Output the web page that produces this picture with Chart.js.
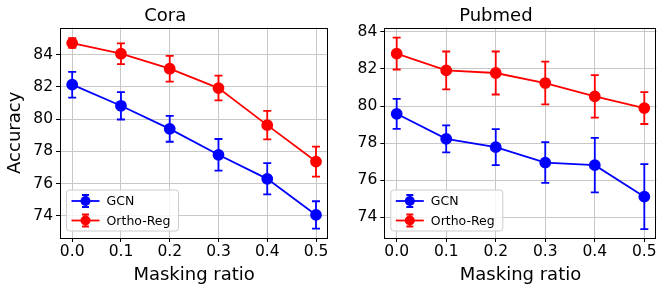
<!DOCTYPE html>
<html>
<head>
<meta charset="utf-8">
<script src="https://cdn.jsdelivr.net/npm/chart.js@4.4.0/dist/chart.umd.min.js"></script>
<style>
  html, body { margin:0; padding:0; background:#fff; }
  #wrap { position:relative; width:665px; height:293px; }
  canvas { position:absolute; top:0; }
</style>
</head>
<body>
<div id="wrap">
  <canvas id="cora" width="335" height="293" style="left:0"></canvas>
  <canvas id="pubmed" width="330" height="293" style="left:335px"></canvas>
</div>
<script>
// values
var maskRatio = [0.0, 0.1, 0.2, 0.3, 0.4, 0.5];
var xTicks = [0.0, 0.1, 0.2, 0.3, 0.4, 0.5];
var yTicks = [74, 76, 78, 80, 82, 84];
var seriesNames = ['GCN', 'Ortho-Reg'];

var coraGcn = [82.14, 80.83, 79.40, 77.79, 76.30, 74.06];
var coraGcnErr = [0.80, 0.85, 0.80, 0.98, 0.97, 0.85];
var coraOrtho = [84.72, 84.06, 83.13, 81.93, 79.63, 77.37];
var coraOrthoErr = [0.30, 0.64, 0.80, 0.77, 0.88, 0.93];

var pubGcn = [79.58, 78.23, 77.78, 76.95, 76.81, 75.11];
var pubGcnErr = [0.81, 0.73, 0.97, 1.10, 1.47, 1.75];
var pubOrtho = [82.83, 81.92, 81.78, 81.24, 80.52, 79.89];
var pubOrthoErr = [0.86, 1.02, 1.16, 1.15, 1.15, 0.86];

Chart.defaults.font.family = 'DejaVu Sans';
Chart.defaults.color = '#000';

var FONT = 'DejaVu Sans';

function drawErrBar(ctx, x, yTop, yBot, cap) {
  ctx.beginPath();
  ctx.moveTo(x, yTop); ctx.lineTo(x, yBot);
  ctx.moveTo(x - cap, yTop); ctx.lineTo(x + cap, yTop);
  ctx.moveTo(x - cap, yBot); ctx.lineTo(x + cap, yBot);
  ctx.stroke();
}

// error bars drawn under the markers, from the y scale
var errorBars = {
  id: 'errorBars',
  beforeDatasetsDraw: function(chart) {
    var ctx = chart.ctx, ys = chart.scales.y;
    chart.data.datasets.forEach(function(ds, i) {
      var meta = chart.getDatasetMeta(i);
      ctx.save();
      ctx.strokeStyle = ds.borderColor;
      ctx.lineWidth = 1.8;
      meta.data.forEach(function(pt, j) {
        var v = ds.data[j].y, e = ds.err[j];
        drawErrBar(ctx, pt.x, ys.getPixelForValue(v + e), ys.getPixelForValue(v - e), 4);
      });
      ctx.restore();
    });
  },
  afterDraw: function(chart) {
    var ctx = chart.ctx, a = chart.chartArea;
    ctx.save();
    // frame
    ctx.strokeStyle = '#000';
    ctx.lineWidth = 1;
    ctx.strokeRect(Math.round(a.left) + 0.5, Math.round(a.top) + 0.5,
                   Math.round(a.right - a.left) - 1, Math.round(a.bottom - a.top));
    // legend in lower left
    var lx = a.left + 6.5, ly = a.bottom - 48, lw = 112, lh = 41;
    ctx.beginPath();
    ctx.roundRect(lx, ly, lw, lh, 3);
    ctx.fillStyle = 'rgba(255,255,255,0.8)';
    ctx.fill();
    ctx.strokeStyle = '#cccccc';
    ctx.lineWidth = 1;
    ctx.stroke();
    ctx.font = '12.5px ' + FONT;
    ctx.textBaseline = 'middle';
    chart.data.datasets.forEach(function(ds, i) {
      var cy = ly + 11 + i * 19.5, x0 = lx + 5, x1 = lx + 33, cx = (x0 + x1) / 2;
      ctx.strokeStyle = ds.borderColor;
      ctx.fillStyle = ds.borderColor;
      ctx.lineWidth = 1.8;
      ctx.beginPath(); ctx.moveTo(x0, cy); ctx.lineTo(x1, cy); ctx.stroke();
      drawErrBar(ctx, cx, cy - 6, cy + 6, 3.5);
      ctx.beginPath(); ctx.arc(cx, cy, 5, 0, Math.PI * 2); ctx.fill();
      ctx.fillStyle = '#000';
      ctx.fillText(ds.label, lx + 40, cy + 1);
    });
    ctx.restore();
  }
};

function makeChart(id, title, gcn, gcnErr, ortho, orthoErr, yMin, yMax, yWidth, padRight, yTitle) {
  var toXY = function(arr) { return maskRatio.map(function(x, i) { return {x: x, y: arr[i]}; }); };
  var ds = function(label, arr, err, color) {
    return {
      label: label, data: toXY(arr), err: err,
      borderColor: color, backgroundColor: color,
      pointBackgroundColor: color, pointBorderColor: color,
      borderWidth: 1.8, pointRadius: 5, pointHoverRadius: 5, tension: 0
    };
  };
  return new Chart(document.getElementById(id), {
    type: 'line',
    data: { datasets: [ds(seriesNames[0], gcn, gcnErr, '#0000ff'), ds(seriesNames[1], ortho, orthoErr, '#ff0000')] },
    options: {
      responsive: false, animation: false, devicePixelRatio: 1,
      layout: { padding: { left: 0, right: padRight, top: 0, bottom: 0 } },
      plugins: {
        legend: { display: false },
        tooltip: { enabled: false },
        title: { display: true, text: title, color: '#000',
                 font: { size: 18, weight: 'normal' }, padding: { top: 6, bottom: 0 } }
      },
      scales: {
        x: {
          type: 'linear', min: -0.025, max: 0.525,
          afterBuildTicks: function(s) { s.ticks = xTicks.map(function(v) { return {value: v}; }); },
          afterFit: function(s) { s.height = 55; },
          ticks: { font: { size: 15.5 }, color: '#000', padding: 1, maxRotation: 0,
                   callback: function(v) { return v.toFixed(1); } },
          grid: { color: '#c8c8c8', lineWidth: 1, tickLength: 4, tickColor: '#000' },
          border: { display: false },
          title: { display: true, text: 'Masking ratio', color: '#000',
                   font: { size: 18 }, padding: { top: 0, bottom: 7 } }
        },
        y: {
          min: yMin, max: yMax,
          afterBuildTicks: function(s) { s.ticks = yTicks.map(function(v) { return {value: v}; }); },
          afterFit: function(s) { s.width = yWidth; },
          ticks: { font: { size: 15.5 }, color: '#000', padding: 3 },
          grid: { color: '#c8c8c8', lineWidth: 1, tickLength: 4, tickColor: '#000' },
          border: { display: false },
          title: { display: yTitle, text: 'Accuracy', color: '#000',
                   font: { size: 18 }, padding: { top: 5, bottom: 0 } }
        }
      }
    },
    plugins: [errorBars]
  });
}

makeChart('cora', 'Cora', coraGcn, coraGcnErr, coraOrtho, coraOrthoErr, 72.63, 85.68, 60, 4.7, true);
makeChart('pubmed', 'Pubmed', pubGcn, pubGcnErr, pubOrtho, pubOrthoErr, 72.88, 84.23, 49.3, 8.3, false);
</script>
</body>
</html>
